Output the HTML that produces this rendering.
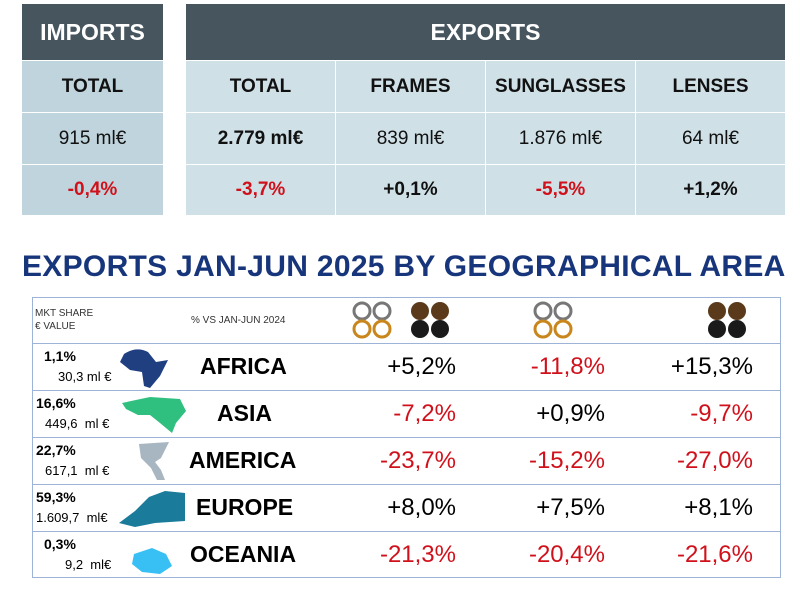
<!DOCTYPE html>
<html><head><meta charset="utf-8"><style>
body{margin:0;width:800px;height:593px;background:#fff;font-family:"Liberation Sans",sans-serif;position:relative;overflow:hidden}
.a{position:absolute;box-sizing:border-box;display:flex;align-items:center;justify-content:center;white-space:nowrap}
.hd{background:#47555f;color:#fff;font-weight:bold;font-size:23px}
.c{background:#cfe0e7;color:#111;font-size:19px}
.ci{background:#bfd4dc;color:#111;font-size:19px}
.b{font-weight:bold}
.r{color:#d0111b}
.row{position:absolute;left:32px;width:749px;border-bottom:1px solid #9db3d8}
.t{position:absolute;white-space:nowrap}
.v{font-size:24px;position:absolute;text-align:right;width:110px}
</style></head><body>
<div class="a hd" style="left:22px;top:4px;width:141px;height:56px">IMPORTS</div>
<div class="a ci b" style="left:22px;top:61px;width:141px;height:51px">TOTAL</div>
<div class="a ci" style="left:22px;top:113px;width:141px;height:51px">915 ml€</div>
<div class="a ci b r" style="left:22px;top:165px;width:141px;height:50px">-0,4%</div>

<div class="a hd" style="left:186px;top:4px;width:599px;height:56px">EXPORTS</div>
<div class="a c b" style="left:186px;top:61px;width:149px;height:51px">TOTAL</div>
<div class="a c b" style="left:336px;top:61px;width:149px;height:51px">FRAMES</div>
<div class="a c b" style="left:486px;top:61px;width:149px;height:51px">SUNGLASSES</div>
<div class="a c b" style="left:636px;top:61px;width:149px;height:51px">LENSES</div>
<div class="a c b" style="left:186px;top:113px;width:149px;height:51px">2.779 ml€</div>
<div class="a c" style="left:336px;top:113px;width:149px;height:51px">839 ml€</div>
<div class="a c" style="left:486px;top:113px;width:149px;height:51px">1.876 ml€</div>
<div class="a c" style="left:636px;top:113px;width:149px;height:51px">64 ml€</div>
<div class="a c b r" style="left:186px;top:165px;width:149px;height:50px">-3,7%</div>
<div class="a c b" style="left:336px;top:165px;width:149px;height:50px">+0,1%</div>
<div class="a c b r" style="left:486px;top:165px;width:149px;height:50px">-5,5%</div>
<div class="a c b" style="left:636px;top:165px;width:149px;height:50px">+1,2%</div>

<div class="t" style="left:22px;top:250px;font-size:30px;font-weight:bold;color:#17357a;letter-spacing:0.3px">EXPORTS JAN-JUN 2025 BY GEOGRAPHICAL AREA</div>

<div style="position:absolute;left:32px;top:297px;width:749px;height:281px;border:1px solid #9db3d8;box-sizing:border-box"></div>
<div class="row" style="top:297px;height:46px"></div>
<div class="row" style="top:343px;height:47px"></div>
<div class="row" style="top:390px;height:47px"></div>
<div class="row" style="top:437px;height:47px"></div>
<div class="row" style="top:484px;height:47px"></div>
<div class="t" style="left:35px;top:307px;font-size:10px;line-height:13px;color:#333">MKT SHARE<br>€ VALUE</div>
<div class="t" style="left:191px;top:315px;font-size:10px;color:#333">% VS JAN-JUN 2024</div>

<svg style="position:absolute;left:340px;top:298px" width="440" height="44">
<g fill="none" stroke-width="3">
<g stroke="#777"><circle cx="22" cy="13" r="8"/><circle cx="42" cy="13" r="8"/></g>
<g stroke="#c8861c"><circle cx="22" cy="31" r="8"/><circle cx="42" cy="31" r="8"/></g>
<g stroke="#777"><circle cx="203" cy="13" r="8"/><circle cx="223" cy="13" r="8"/></g>
<g stroke="#c8861c"><circle cx="203" cy="31" r="8"/><circle cx="223" cy="31" r="8"/></g>
</g>
<g fill="#5a3a1a"><circle cx="80" cy="13" r="9"/><circle cx="100" cy="13" r="9"/><circle cx="377" cy="13" r="9"/><circle cx="397" cy="13" r="9"/></g>
<g fill="#1a1a1a"><circle cx="80" cy="31" r="9"/><circle cx="100" cy="31" r="9"/><circle cx="377" cy="31" r="9"/><circle cx="397" cy="31" r="9"/></g>
</svg>

<div class="t b" style="left:44px;top:348px;font-size:14px">1,1%</div>
<div class="t" style="left:58px;top:369px;font-size:13px">30,3 ml €</div>
<svg style="position:absolute;left:116px;top:346px" width="56" height="44"><path d="M8 8 Q20 0 32 6 L40 16 L52 14 L44 30 L34 42 L28 40 L26 26 L14 24 L4 16Z" fill="#1f3f80"/></svg>
<div class="t b" style="left:200px;top:353px;font-size:23px">AFRICA</div>

<div class="t b" style="left:36px;top:395px;font-size:14px">16,6%</div>
<div class="t" style="left:45px;top:416px;font-size:13px">449,6&nbsp; ml €</div>
<svg style="position:absolute;left:120px;top:393px" width="70" height="44"><path d="M2 10 L30 4 L60 6 L66 18 L56 30 L52 40 L40 30 L30 22 L18 22 L6 16Z" fill="#2fbf7f"/></svg>
<div class="t b" style="left:217px;top:400px;font-size:23px">ASIA</div>

<div class="t b" style="left:36px;top:442px;font-size:14px">22,7%</div>
<div class="t" style="left:45px;top:463px;font-size:13px">617,1&nbsp; ml €</div>
<svg style="position:absolute;left:135px;top:440px" width="40" height="42"><path d="M4 4 L34 2 L26 18 L20 22 L26 30 L30 40 L22 40 L16 28 L6 18Z" fill="#a8b6c2"/></svg>
<div class="t b" style="left:189px;top:447px;font-size:23px">AMERICA</div>

<div class="t b" style="left:36px;top:489px;font-size:14px">59,3%</div>
<div class="t" style="left:36px;top:510px;font-size:13px">1.609,7&nbsp; ml€</div>
<svg style="position:absolute;left:115px;top:487px" width="72" height="42"><path d="M4 36 L20 24 L34 10 L50 4 L70 6 L70 34 L40 36 L20 40Z" fill="#1a7c9a"/></svg>
<div class="t b" style="left:196px;top:494px;font-size:23px">EUROPE</div>

<div class="t b" style="left:44px;top:536px;font-size:14px">0,3%</div>
<div class="t" style="left:65px;top:557px;font-size:13px">9,2&nbsp; ml€</div>
<svg style="position:absolute;left:116px;top:534px" width="60" height="42"><path d="M18 20 L36 14 L50 20 L56 32 L44 40 L26 38 L16 30Z" fill="#38c0f5"/></svg>
<div class="t b" style="left:190px;top:541px;font-size:23px">OCEANIA</div>

<div class="v" style="left:346px;top:353px">+5,2%</div>
<div class="v r" style="left:495px;top:353px">-11,8%</div>
<div class="v" style="left:643px;top:353px">+15,3%</div>
<div class="v r" style="left:346px;top:400px">-7,2%</div>
<div class="v" style="left:495px;top:400px">+0,9%</div>
<div class="v r" style="left:643px;top:400px">-9,7%</div>
<div class="v r" style="left:346px;top:447px">-23,7%</div>
<div class="v r" style="left:495px;top:447px">-15,2%</div>
<div class="v r" style="left:643px;top:447px">-27,0%</div>
<div class="v" style="left:346px;top:494px">+8,0%</div>
<div class="v" style="left:495px;top:494px">+7,5%</div>
<div class="v" style="left:643px;top:494px">+8,1%</div>
<div class="v r" style="left:346px;top:541px">-21,3%</div>
<div class="v r" style="left:495px;top:541px">-20,4%</div>
<div class="v r" style="left:643px;top:541px">-21,6%</div>
</body></html>
